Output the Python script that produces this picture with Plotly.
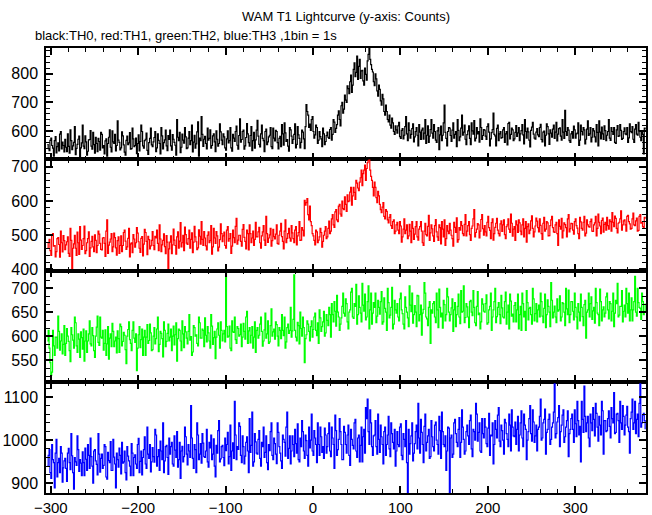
import plotly.graph_objects as go
from plotly.subplots import make_subplots

# 1-s bins, stored as even-second and odd-second readings
time_even = list(range(-304, 381, 2))
time_odd = list(range(-303, 380, 2))

th0_even = [
552, 531, 575, 540, 566, 523, 558, 589, 537, 549,
571, 528, 546, 604, 535, 560, 517, 553, 582, 541,
620, 538, 562, 529, 570, 547, 595, 522, 556, 574,
533, 588, 549, 565, 512, 578, 543, 600, 556, 530,
635, 560, 541, 583, 526, 567, 552, 594, 538, 572,
549, 521, 586, 563, 598, 540, 571, 532, 559, 610,
545, 577, 528, 590, 556, 612, 537, 569, 548, 584,
603, 533, 571, 550, 640, 566, 524, 589, 557, 579,
541, 598, 566, 527, 585, 555, 632, 575, 650, 546,
581, 537, 568, 604, 549, 590, 528, 571, 556, 597,
552, 579, 533, 600, 566, 541, 588, 563, 617, 536,
642, 570, 603, 548, 626, 559, 584, 531, 595, 569,
637, 553, 590, 574, 528, 606, 562, 585, 545, 610,
565, 598, 537, 581, 622, 550, 593, 570, 529, 604,
556, 588, 541, 615, 574, 560, 596, 538, 692, 655,
624, 640, 598, 586, 612, 568, 580, 545, 590, 563,
596, 574, 612, 588, 631, 609, 655, 640, 688, 662,
725, 700, 748, 772, 735, 815, 790, 862, 826, 784,
812, 760, 798, 845, 888, 832, 806, 758, 782, 722,
745, 690, 712, 655, 668, 632, 620, 645, 598, 618,
592, 630, 574, 608, 585, 650, 566, 602, 588, 625,
579, 612, 548, 596, 603, 571, 640, 585, 560, 605,
592, 622, 568, 600, 535, 617, 585, 690, 574, 598,
610, 563, 628, 588, 545, 602, 579, 655, 596, 571,
587, 618, 552, 600, 636, 575, 590, 561, 612, 584,
603, 570, 625, 548, 594, 662, 583, 609, 566, 598,
577, 612, 590, 551, 630, 588, 604, 572, 619, 593,
566, 601, 586, 640, 575, 597, 544, 613, 589, 571,
608, 580, 623, 562, 599, 585, 615, 553, 592, 606,
574, 630, 589, 611, 568, 596, 672, 584, 603, 560,
598, 617, 575, 592, 549, 620, 586, 604, 571, 635,
590, 562, 608, 579, 622, 548, 596, 613, 570, 601,
585, 640, 567, 598, 612, 556, 619, 583, 602, 574,
611, 587, 560, 625, 594, 571, 606, 589, 630, 578,
596, 520, 605]

th0_odd = [
538, 567, 549, 512, 580, 545, 530, 598, 561, 527,
543, 590, 522, 566, 548, 615, 539, 571, 509, 558,
547, 583, 515, 569, 601, 536, 552, 578, 528, 563,
595, 541, 520, 572, 556, 604, 527, 562, 588, 549,
568, 534, 597, 551, 515, 582, 558, 536, 610, 545,
575, 556, 530, 620, 548, 566, 592, 518, 574, 551,
562, 598, 541, 567, 520, 583, 559, 603, 531, 570,
548, 587, 560, 515, 578, 595, 543, 568, 612, 538,
575, 552, 620, 561, 540, 597, 512, 566, 588, 571,
556, 610, 574, 540, 583, 562, 600, 547, 625, 568,
590, 541, 572, 558, 612, 529, 575, 598, 550, 584,
561, 598, 536, 577, 590, 547, 615, 566, 540, 603,
582, 544, 620, 566, 598, 552, 579, 612, 538, 575,
602, 559, 574, 545, 590, 628, 563, 547, 612, 582,
570, 625, 553, 586, 541, 603, 572, 615, 668, 612,
602, 650, 575, 620, 556, 598, 572, 610, 552, 584,
578, 605, 568, 640, 595, 622, 670, 618, 700, 676,
708, 758, 730, 795, 760, 838, 805, 780, 850, 810,
775, 820, 778, 868, 850, 815, 772, 800, 740, 760,
705, 728, 668, 690, 640, 655, 610, 628, 588, 604,
618, 580, 602, 572, 615, 590, 628, 575, 608, 562,
598, 585, 622, 570, 610, 592, 556, 618, 582, 640,
575, 598, 560, 612, 586, 566, 628, 595, 548, 612,
584, 603, 575, 598, 640, 566, 610, 585, 620, 552,
600, 574, 628, 589, 565, 612, 598, 642, 570, 605,
582, 615, 596, 572, 605, 588, 548, 620, 590, 575,
604, 560, 598, 626, 572, 610, 566, 595, 581, 612,
590, 622, 555, 598, 610, 568, 602, 630, 575, 596,
586, 612, 570, 596, 548, 625, 590, 604, 578, 620,
596, 565, 608, 582, 640, 574, 598, 612, 566, 590,
575, 604, 590, 628, 568, 598, 612, 555, 606, 584,
612, 578, 600, 562, 595, 635, 572, 590, 618, 566,
598, 575, 612, 588, 560, 604, 581, 622, 570, 598,
590, 612, 576, 598, 615, 560, 622, 585, 600, 566,
588, 610]

th1_even = [
462, 488, 441, 505, 470, 452, 493, 436, 478, 499,
458, 481, 447, 520, 403, 475, 462, 509, 444, 486,
470, 527, 455, 490, 438, 482, 466, 501, 449, 512,
476, 457, 493, 438, 545, 471, 489, 452, 506, 463,
484, 447, 498, 470, 515, 459, 491, 437, 478, 502,
465, 522, 481, 450, 496, 474, 508, 443, 487, 469,
511, 458, 492, 476, 530, 452, 485, 467, 499, 400,
480, 446, 518, 470, 495, 462, 537, 478, 455, 502,
473, 515, 488, 449, 526, 481, 463, 497, 540, 470,
492, 457, 510, 484, 445, 520, 476, 498, 465, 533,
481, 509, 462, 525, 490, 447, 515, 478, 549, 486,
500, 468, 531, 482, 515, 457, 505, 492, 470, 538,
495, 523, 462, 510, 486, 555, 479, 501, 468, 517,
489, 530, 474, 512, 496, 460, 545, 491, 520, 483,
507, 478, 525, 498, 540, 486, 515, 602, 595, 560,
585, 528, 498, 472, 510, 486, 520, 465, 500, 525,
495, 541, 512, 560, 523, 575, 540, 590, 556, 578,
612, 570, 598, 626, 588, 640, 605, 652, 630, 668,
645, 690, 660, 712, 720, 672, 640, 655, 610, 628,
590, 566, 595, 548, 570, 536, 560, 520, 545, 512,
538, 505, 527, 495, 548, 515, 490, 532, 478, 520,
503, 540, 486, 525, 512, 470, 535, 498, 558, 507,
519, 482, 546, 495, 530, 475, 518, 545, 490, 512,
535, 500, 468, 523, 551, 487, 515, 528, 499, 560,
512, 540, 485, 527, 575, 508, 534, 492, 546, 519,
528, 498, 555, 514, 537, 486, 523, 549, 505, 533,
511, 545, 490, 530, 518, 562, 497, 525, 542, 508,
536, 502, 548, 520, 480, 533, 515, 557, 495, 527,
541, 510, 529, 488, 552, 518, 536, 499, 545, 522,
508, 538, 470, 526, 549, 513, 531, 495, 560, 519,
534, 503, 548, 521, 490, 539, 515, 555, 506, 530,
524, 547, 511, 536, 498, 562, 527, 543, 509, 538,
552, 518, 540, 566, 525, 549, 507, 538, 571, 530,
545, 512, 558, 533, 520, 565, 528, 550, 514, 560,
538, 522, 548]

th1_odd = [
478, 455, 500, 468, 437, 490, 473, 512, 451, 484,
472, 495, 438, 485, 462, 500, 441, 478, 525, 459,
490, 446, 478, 510, 463, 497, 452, 485, 470, 503,
459, 492, 476, 512, 447, 480, 505, 466, 493, 442,
495, 470, 452, 508, 483, 466, 520, 475, 449, 489,
478, 506, 462, 491, 440, 517, 482, 497, 460, 485,
470, 497, 515, 455, 489, 472, 504, 446, 480, 460,
498, 472, 486, 445, 510, 483, 466, 500, 524, 477,
490, 462, 507, 480, 495, 458, 516, 474, 488, 511,
469, 500, 478, 528, 466, 492, 511, 454, 487, 505,
498, 470, 515, 483, 505, 468, 493, 526, 474, 500,
482, 517, 494, 460, 505, 530, 478, 512, 488, 495,
510, 478, 498, 528, 470, 505, 492, 520, 484, 496,
503, 476, 500, 535, 482, 512, 478, 505, 492, 528,
490, 515, 472, 508, 485, 522, 498, 588, 607, 545,
540, 505, 485, 515, 478, 495, 508, 482, 512, 490,
520, 505, 548, 530, 568, 545, 585, 562, 600, 575,
590, 618, 600, 640, 615, 625, 660, 638, 655, 690,
680, 705, 695, 718, 690, 660, 615, 640, 595, 615,
575, 582, 555, 575, 545, 552, 528, 540, 505, 530,
515, 540, 480, 518, 505, 530, 498, 512, 540, 488,
525, 495, 518, 540, 478, 512, 502, 526, 485, 530,
498, 528, 510, 485, 522, 540, 495, 470, 528, 505,
515, 490, 538, 508, 480, 522, 540, 505, 532, 498,
528, 502, 520, 548, 495, 518, 530, 512, 560, 500,
510, 538, 522, 490, 548, 505, 535, 515, 498, 542,
530, 502, 525, 548, 508, 535, 518, 485, 530, 545,
512, 530, 495, 540, 525, 505, 542, 520, 510, 550,
522, 548, 505, 535, 512, 540, 498, 528, 555, 510,
530, 505, 545, 518, 492, 536, 522, 548, 510, 535,
515, 540, 528, 505, 552, 520, 538, 498, 545, 525,
540, 512, 530, 555, 520, 538, 505, 550, 532, 515,
528, 545, 512, 538, 556, 520, 535, 548, 515, 542,
530, 555, 540, 518, 548, 530, 542, 512, 555, 535,
525, 552]

th2_even = [
590, 575, 518, 612, 560, 598, 642, 571, 605, 583,
560, 616, 589, 547, 603, 575, 628, 566, 594, 609,
573, 548, 611, 590, 632, 580, 601, 556, 619, 587,
640, 596, 571, 613, 584, 552, 605, 627, 578, 598,
611, 566, 620, 589, 602, 543, 614, 593, 570, 630,
587, 528, 603, 576, 615, 598, 560, 624, 591, 607,
572, 618, 595, 640, 583, 606, 557, 612, 589, 625,
598, 570, 621, 603, 548, 615, 590, 632, 576, 609,
584, 645, 599, 567, 618, 603, 580, 628, 596, 612,
638, 588, 607, 575, 621, 597, 553, 615, 602, 630,
590, 612, 736, 598, 621, 570, 609, 640, 585, 616,
603, 578, 627, 594, 652, 611, 586, 620, 598, 566,
618, 602, 640, 579, 613, 596, 632, 588, 657, 609,
594, 624, 580, 612, 645, 601, 575, 618, 606, 660,
611, 728, 598, 629, 584, 616, 640, 545, 603, 625,
590, 632, 614, 648, 601, 585, 638, 620, 652, 607,
633, 660, 598, 645, 672, 621, 650, 612, 638, 690,
642, 668, 615, 655, 700, 637, 662, 625, 684, 648,
710, 652, 634, 672, 615, 690, 648, 660, 628, 675,
646, 693, 630, 658, 612, 670, 644, 702, 625, 655,
668, 632, 690, 647, 615, 660, 638, 705, 651, 627,
664, 620, 684, 645, 602, 656, 690, 636, 660, 585,
648, 672, 628, 655, 698, 640, 617, 666, 645, 682,
632, 659, 610, 670, 645, 688, 626, 650, 705, 639,
661, 618, 675, 643, 660, 622, 693, 648, 630, 667,
650, 686, 628, 662, 612, 655, 700, 641, 670, 626,
659, 638, 692, 650, 615, 673, 646, 664, 630, 688,
645, 612, 668, 652, 695, 634, 660, 625, 678, 647,
630, 665, 690, 642, 658, 618, 676, 650, 712, 638,
663, 628, 652, 684, 640, 668, 622, 657, 696, 645,
672, 634, 660, 615, 650, 688, 641, 666, 596, 655,
640, 682, 653, 627, 670, 645, 698, 632, 661, 648,
690, 636, 668, 652, 620, 675, 710, 644, 662, 630,
665, 700, 648, 632, 680, 655, 725, 642, 670, 658,
690, 645, 668]

th2_odd = [
612, 545, 525, 580, 598, 575, 610, 590, 563, 622,
585, 600, 570, 618, 592, 640, 580, 605, 556, 597,
615, 590, 566, 605, 584, 618, 570, 600, 642, 581,
598, 612, 585, 560, 620, 596, 578, 610, 590, 565,
595, 625, 580, 608, 572, 600, 630, 585, 612, 596,
605, 575, 620, 593, 560, 612, 598, 585, 625, 570,
600, 584, 615, 568, 610, 595, 630, 578, 606, 590,
615, 600, 582, 628, 595, 612, 570, 605, 620, 596,
610, 592, 560, 622, 600, 585, 640, 596, 615, 578,
602, 620, 590, 645, 583, 610, 598, 628, 575, 612,
605, 588, 620, 600, 575, 632, 608, 593, 620, 600,
625, 598, 610, 640, 585, 618, 602, 575, 630, 612,
596, 625, 610, 590, 648, 605, 585, 622, 600, 615,
630, 600, 618, 595, 612, 640, 588, 625, 612, 598,
635, 612, 590, 622, 650, 600, 618, 595, 632, 610,
620, 598, 640, 612, 628, 655, 610, 630, 600, 645,
622, 645, 668, 630, 652, 685, 640, 625, 662, 648,
678, 630, 650, 692, 640, 668, 708, 645, 660, 630,
665, 688, 640, 705, 655, 625, 670, 690, 642, 660,
672, 625, 680, 650, 700, 638, 660, 615, 675, 648,
640, 678, 655, 625, 682, 650, 620, 665, 690, 645,
650, 685, 632, 665, 648, 712, 640, 622, 672, 655,
668, 640, 690, 618, 660, 648, 675, 632, 700, 650,
645, 678, 655, 620, 662, 640, 695, 652, 628, 668,
640, 672, 650, 695, 628, 662, 645, 615, 678, 652,
668, 625, 655, 690, 640, 672, 628, 660, 645, 685,
640, 672, 625, 665, 688, 642, 630, 670, 655, 615,
662, 690, 640, 612, 670, 658, 645, 700, 632, 668,
655, 640, 672, 628, 688, 645, 662, 620, 675, 650,
640, 678, 655, 632, 670, 650, 700, 645, 628, 672,
652, 690, 640, 668, 632, 660, 622, 675, 650, 690,
668, 635, 660, 700, 648, 622, 672, 655, 640, 682,
655, 672, 632, 690, 648, 668, 640, 662, 695, 652,
640, 668, 690, 655, 632, 672, 650, 700, 660, 635,
672, 650]

th3_even = [
940, 978, 912, 955, 890, 1002, 948, 925, 970, 936,
958, 905, 981, 932, 964, 887, 950, 1010, 928, 947,
973, 918, 956, 990, 935, 962, 901, 978, 944, 1015,
926, 968, 942, 985, 910, 953, 997, 930, 961, 890,
955, 982, 922, 947, 975, 908, 963, 940, 992, 918,
966, 935, 1004, 951, 920, 978, 945, 1030, 958, 927,
983, 949, 1012, 962, 930, 975, 1040, 952, 988, 921,
968, 995, 940, 977, 1020, 955, 912, 986, 962, 1008,
943, 975, 1080, 958, 990, 925, 1012, 968, 947, 993,
960, 1025, 938, 982, 955, 1003, 915, 970, 1045, 957,
988, 941, 976, 1018, 962, 930, 994, 1090, 955, 979,
1032, 948, 985, 963, 1008, 925, 972, 1065, 950, 996,
968, 1022, 940, 985, 960, 1010, 932, 976, 1040, 955,
992, 946, 1018, 970, 935, 1002, 963, 1065, 981, 945,
1010, 962, 992, 1038, 950, 985, 1020, 958, 999, 940,
982, 1060, 965, 1005, 948, 990, 1030, 972, 958, 1012,
985, 1040, 962, 1005, 935, 1022, 978, 1050, 990, 955,
1018, 970, 1035, 942, 1002, 980, 1048, 960, 1012, 988,
950, 1025, 1075, 1095, 990, 1040, 965, 1012, 985, 1060,
972, 1008, 945, 1030, 990, 1055, 962, 1015, 980, 940,
1020, 985, 1038, 955, 1002, 1045, 878, 968, 1010, 952,
992, 1035, 1085, 970, 1018, 948, 1060, 995, 1025, 962,
1008, 975, 1042, 990, 1055, 958, 1020, 985, 930, 1030,
878, 1012, 968, 1048, 995, 1025, 960, 1070, 1002, 975,
1035, 990, 1058, 962, 1020, 1085, 998, 1040, 972, 1015,
1050, 992, 1028, 965, 1010, 945, 1045, 1005, 1075, 985,
1022, 968, 1040, 1002, 1060, 975, 1030, 1008, 990, 1055,
1012, 1068, 985, 1035, 955, 1020, 1080, 998, 1042, 1010,
975, 1030, 1095, 1005, 1048, 968, 1025, 1060, 1002, 1040,
1130, 1015, 1052, 985, 1035, 1070, 1008, 1045, 962, 1025,
1060, 995, 1038, 1090, 1012, 950, 1048, 1125, 1020, 1055,
985, 1040, 1075, 1010, 1062, 998, 1035, 1090, 968, 1045,
1022, 1068, 1005, 1050, 1110, 1018, 1062, 995, 1040, 1080,
1012, 1058, 1030, 970, 1065, 1025, 1090, 1048, 1008, 1130,
1040, 1062, 1025]

th3_odd = [
965, 925, 990, 948, 970, 915, 958, 985, 903, 952,
935, 970, 948, 1015, 925, 960, 942, 978, 955, 918,
948, 982, 930, 965, 1005, 940, 975, 952, 920, 968,
958, 935, 990, 915, 972, 948, 930, 1002, 945, 970,
938, 965, 995, 950, 925, 985, 952, 918, 970, 960,
945, 990, 925, 975, 960, 1008, 935, 968, 990, 950,
962, 1025, 940, 978, 998, 955, 925, 985, 960, 1005,
985, 945, 1010, 960, 938, 995, 975, 950, 1030, 968,
990, 960, 1005, 935, 978, 1040, 955, 992, 1015, 962,
975, 950, 995, 1012, 968, 940, 988, 1022, 950, 985,
960, 1005, 990, 945, 1035, 975, 958, 1012, 985, 1040,
965, 1010, 945, 995, 975, 1050, 988, 940, 1015, 970,
1002, 958, 995, 1030, 972, 948, 990, 1020, 965, 1005,
968, 1040, 985, 952, 1012, 995, 1030, 958, 1010, 975,
990, 1025, 970, 955, 1005, 1045, 975, 1012, 965, 1030,
1000, 975, 1022, 990, 1040, 965, 1008, 985, 1028, 970,
1015, 975, 1030, 990, 1058, 965, 1002, 1020, 955, 1032,
990, 1012, 965, 1025, 988, 1040, 975, 1005, 950, 1030,
1008, 970, 1050, 1020, 1070, 985, 1010, 1045, 968, 1002,
1035, 990, 1020, 965, 1012, 980, 1040, 995, 1025, 975,
990, 1030, 965, 1015, 985, 948, 1025, 992, 1040, 970,
1020, 980, 1005, 1048, 990, 1032, 975, 1010, 958, 1045,
985, 1035, 1000, 968, 1022, 1065, 990, 1010, 975, 1028,
1005, 960, 1040, 1015, 985, 1052, 995, 1030, 968, 1020,
1010, 1045, 980, 1025, 1000, 1060, 1018, 975, 1050, 1005,
1030, 985, 1062, 1012, 1040, 990, 1025, 1058, 998, 1035,
1000, 1048, 1015, 985, 1035, 1070, 1010, 1042, 1025, 975,
1040, 1005, 1060, 1025, 1000, 1050, 1015, 1070, 995, 1035,
1025, 1055, 1000, 1040, 1072, 1018, 1048, 990, 1030, 1065,
1005, 1042, 1080, 1020, 1058, 995, 1030, 1068, 1015, 1050,
1025, 1070, 1008, 1045, 1032, 1090, 1018, 1055, 1040, 1005,
1060, 1022, 1048, 1085, 1030, 1055, 1012, 1068, 1045, 1020,
1050, 1032, 1075, 1040, 1015, 1060, 1045, 1090, 1025, 1055,
1035, 1078, 1020, 1050, 1095, 1040, 1015, 1060, 1085, 1030,
1058, 1045]

colors = ["#000000", "#ff0000", "#00ff00", "#0000ff"]
names = ["TH0", "TH1", "TH2", "TH3"]
y_ranges = [[501, 890], [397, 722], [505, 737], [878, 1135]]
y_ticks = [[600, 700, 800], [400, 500, 600, 700], [550, 600, 650, 700], [900, 1000, 1100]]
y_minor = [20, 20, 50 / 3, 20]
x_ticks = [-300, -200, -100, 0, 100, 200, 300]
x_range = [-305.5, 381]


def merge(even_vals, odd_vals):
    assert len(even_vals) == len(time_even) and len(odd_vals) == len(time_odd)
    pairs = sorted(list(zip(time_even, even_vals)) + list(zip(time_odd, odd_vals)))
    return [p[0] for p in pairs], [p[1] for p in pairs]


series = [merge(th0_even, th0_odd), merge(th1_even, th1_odd),
          merge(th2_even, th2_odd), merge(th3_even, th3_odd)]

FONT = "Liberation Sans, Arial, Helvetica, sans-serif"

fig = make_subplots(rows=4, cols=1, shared_xaxes=True, vertical_spacing=0)

for i, ((tx, vals), col, nm) in enumerate(zip(series, colors, names)):
    fig.add_trace(
        go.Scatter(x=tx, y=vals, mode="lines", name=nm,
                   line=dict(color=col, width=1.2, shape="hv"),
                   showlegend=False, hoverinfo="skip"),
        row=i + 1, col=1)
    fig.update_yaxes(
        range=y_ranges[i], tickvals=y_ticks[i], row=i + 1, col=1,
        ticks="inside", ticklen=7, tickwidth=1.5, tickcolor="black",
        minor=dict(ticks="inside", ticklen=4, dtick=y_minor[i], tick0=y_ticks[i][0],
                   tickcolor="black", tickwidth=1),
        showline=True, linecolor="black", linewidth=1.5, mirror="ticks",
        showgrid=False, zeroline=False, automargin=False,
        tickfont=dict(family=FONT, size=16, color="black"),
        ticklabelstandoff=3)
    fig.update_xaxes(
        range=x_range, tickvals=x_ticks, row=i + 1, col=1,
        ticks="inside", ticklen=7, tickwidth=1.5, tickcolor="black",
        minor=dict(ticks="inside", ticklen=4, dtick=20, tick0=0,
                   tickcolor="black", tickwidth=1),
        showline=True, linecolor="black", linewidth=1.5, mirror="ticks",
        showgrid=False, zeroline=False, automargin=False,
        showticklabels=(i == 3), ticklabelstandoff=0,
        tickfont=dict(family=FONT, size=15, color="black"))

fig.add_annotation(text="WAM T1 Lightcurve (y-axis: Counts)", xref="paper", yref="paper",
                   x=0.5, y=1.0, yshift=41, xanchor="center", yanchor="top", showarrow=False,
                   font=dict(family=FONT, size=13, color="black"))
fig.add_annotation(text="black:TH0, red:TH1, green:TH2, blue:TH3 ,1bin = 1s", xref="paper",
                   yref="paper", x=0.0, y=1.0, xshift=-13, yshift=22, xanchor="left",
                   yanchor="top", showarrow=False,
                   font=dict(family=FONT, size=13, color="black"))

fig.update_layout(
    width=652, height=515,
    margin=dict(l=46, r=6, t=48, b=22, autoexpand=False),
    paper_bgcolor="white", plot_bgcolor="white",
    font=dict(family=FONT, color="black"),
)

fig.write_html("out.html", config={"displayModeBar": False},
               post_script="document.body.style.margin='0';")
